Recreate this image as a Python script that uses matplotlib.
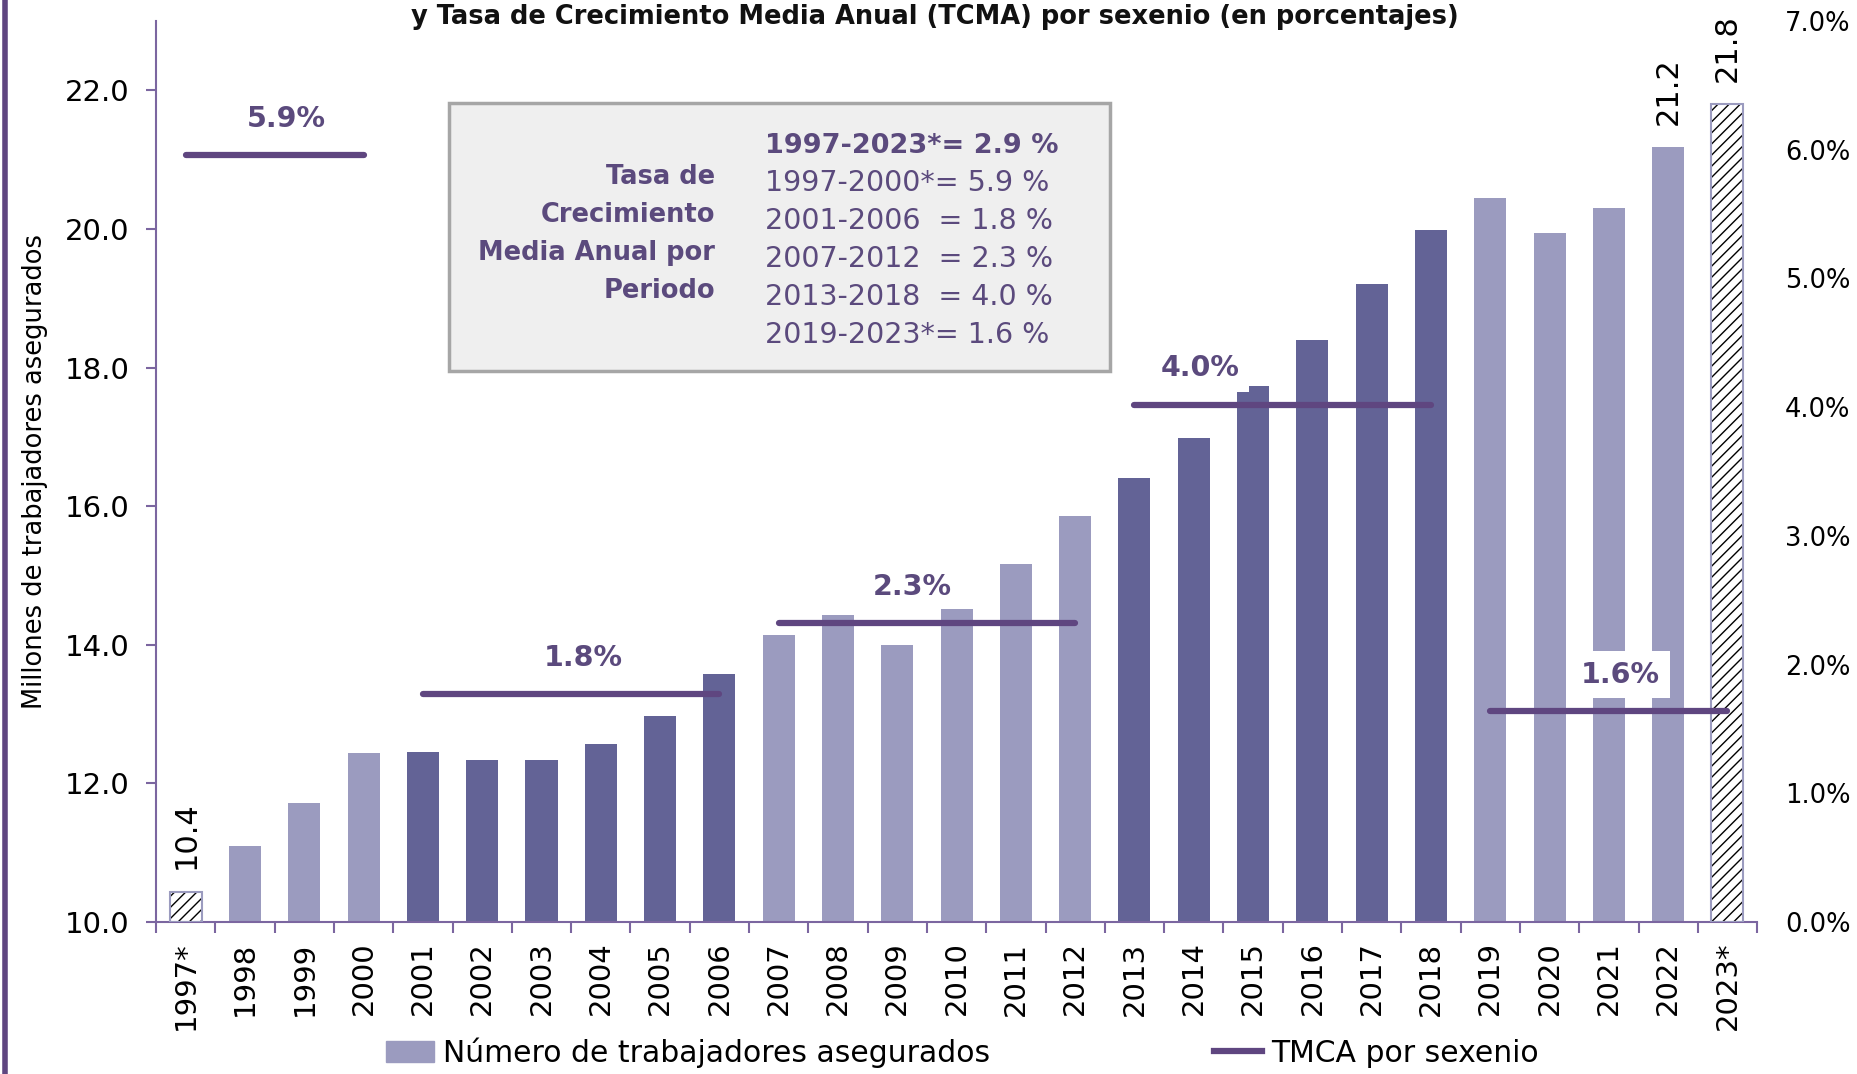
import numpy as np
import matplotlib.pyplot as plt
from matplotlib.patches import Patch, Rectangle
from matplotlib.lines import Line2D
from matplotlib.ticker import FuncFormatter


# data
years = ['1997*', '1998', '1999', '2000', '2001', '2002', '2003', '2004', '2005',
         '2006', '2007', '2008', '2009', '2010', '2011', '2012', '2013', '2014',
         '2015', '2016', '2017', '2018', '2019', '2020', '2021', '2022', '2023*']
workers = [10.44, 11.09, 11.72, 12.44, 12.45, 12.34, 12.34, 12.57, 12.97,
           13.58, 14.14, 14.43, 13.99, 14.52, 15.16, 15.86, 16.41, 16.99,
           17.74, 18.40, 19.20, 19.99, 20.45, 19.94, 20.30, 21.18, 21.80]
# shading group per year: 0 hatched (partial year), 1 light, 2 dark
groups = [0, 1, 1, 1, 2, 2, 2, 2, 2, 2, 1, 1, 1, 1, 1, 1, 2, 2, 2, 2, 2, 2,
          1, 1, 1, 1, 0]
labelled = {0: '10.4', 25: '21.2', 26: '21.8'}

# TMCA by sexenio: first year, last year, rate (%) and its printed label
tmca_start = ['1997*', '2001', '2007', '2013', '2019']
tmca_end = ['2000', '2006', '2012', '2018', '2023*']
tmca_rate = [5.96, 1.77, 2.32, 4.02, 1.64]
tmca_text = ['5.9%', '1.8%', '2.3%', '4.0%', '1.6%']
tmca_label_x = [1.7, 6.7, 12.25, 17.1, 24.2]
tmca_boxed = [False, False, False, True, True]

box_title = 'Tasa de\nCrecimiento\nMedia Anual por\nPeriodo'
box_lines = ['1997-2023*= 2.9 %', '1997-2000*= 5.9 %', '2001-2006  = 1.8 %',
             '2007-2012  = 2.3 %', '2013-2018  = 4.0 %', '2019-2023*= 1.6 %']

light = '#9b9bbf'
dark = '#636396'
line_c = '#5f4680'
text_c = '#5b4a7d'
spine_c = '#7b66a0'

plt.rcParams['font.family'] = ['DejaVu Sans']

fig = plt.figure(figsize=(18.58, 10.74), dpi=100)
ax = fig.add_axes([0.084, 0.1415, 0.8617, 0.839])
x = np.arange(len(years))
w = 0.54

# bars
for i, (v, g) in enumerate(zip(workers, groups)):
    if g == 0:
        ax.bar(i, v - 10, w, bottom=10, color='white', edgecolor='black',
               hatch='///', lw=0, zorder=2)
        ax.bar(i, v - 10, w, bottom=10, fill=False, edgecolor=light, lw=1.5,
               zorder=3)
    else:
        ax.bar(i, v - 10, w, bottom=10, color=light if g == 1 else dark,
               zorder=2)

for i, s in labelled.items():
    ax.annotate(s, (i, workers[i]), xytext=(0, 16), textcoords='offset points',
                rotation=90, ha='center', va='bottom', fontsize=22)

ax.set_xlim(-0.5, len(years) - 0.5)
ax.set_ylim(10, 23)
ax.set_yticks(np.arange(10, 23, 2))
ax.yaxis.set_major_formatter(FuncFormatter(lambda v, p: f'{v:.1f}'))
ax.set_xticks(x)
ax.set_xticklabels(years, rotation=90, fontsize=21)
ax.set_xticks(np.r_[-0.5, x + 0.5], minor=True)
ax.tick_params(axis='x', which='major', length=0, pad=14)
ax.tick_params(axis='x', which='minor', length=8, width=1.5, color=spine_c)
ax.tick_params(axis='y', labelsize=21, length=7, width=1.5, color=spine_c,
               pad=12)
ax.set_ylabel('Millones de trabajadores asegurados', fontsize=18.5, labelpad=12)
for side in ['top', 'right']:
    ax.spines[side].set_visible(False)
for side in ['left', 'bottom']:
    ax.spines[side].set_color(spine_c)
    ax.spines[side].set_linewidth(1.5)

# TMCA lines on the right axis
ax2 = ax.twinx()
ax2.set_ylim(0, 0.07)
ax2.set_yticks(np.arange(0, 0.071, 0.01))
ax2.yaxis.set_major_formatter(FuncFormatter(lambda v, p: f'{v * 100:.1f}%'))
ax2.tick_params(axis='y', labelsize=18.5, length=0, pad=20)
for s in ax2.spines.values():
    s.set_visible(False)

for a, b, r, t, lx, boxed in zip(tmca_start, tmca_end, tmca_rate, tmca_text,
                                 tmca_label_x, tmca_boxed):
    i0, i1 = years.index(a), years.index(b)
    ax2.plot([i0, i1], [r / 100] * 2, color=line_c, lw=4.5,
             solid_capstyle='round', zorder=4)
    bb = dict(facecolor='white', edgecolor='none', pad=7) if boxed else None
    ax2.annotate(t, (lx, r / 100), xytext=(0, 26),
                 textcoords='offset points', ha='center', va='center',
                 fontsize=20.5, fontweight='bold', color=text_c, zorder=5,
                 bbox=bb)

# info box
fig.add_artist(Rectangle((0.2417, 0.6546), 0.3557, 0.2496,
                         transform=fig.transFigure, facecolor='#efefef',
                         edgecolor='#a6a6a6', lw=2.5))
fig.text(0.385, 0.782, box_title, ha='right', va='center', fontsize=18.5,
         fontweight='bold', color=text_c, linespacing=1.6)
for k, s in enumerate(box_lines):
    fig.text(0.412, 0.8645 - k * 0.0353, s, ha='left', va='center',
             fontsize=19.5 if k == 0 else 20.5, color=text_c,
             fontweight='bold' if k == 0 else 'normal')

fig.text(0.503, 0.984, 'y Tasa de Crecimiento Media Anual (TCMA) por sexenio '
         '(en porcentajes)', ha='center', va='center', fontsize=18.5,
         fontweight='bold', color='#111111')

# left border of the slide
fig.add_artist(Line2D([0.0025, 0.0025], [0, 1], transform=fig.transFigure,
                      color=line_c, lw=4))

handles = [Patch(color=light), Line2D([], [], color=line_c, lw=4.5)]
fig.legend(handles, ['Número de trabajadores asegurados', 'TMCA por sexenio'],
           loc='center', bbox_to_anchor=(0.518, 0.02), ncol=2, frameon=False,
           fontsize=21.5, columnspacing=7.5, handlelength=1.6,
           handletextpad=0.3)

fig.savefig('out.png', dpi=100)
